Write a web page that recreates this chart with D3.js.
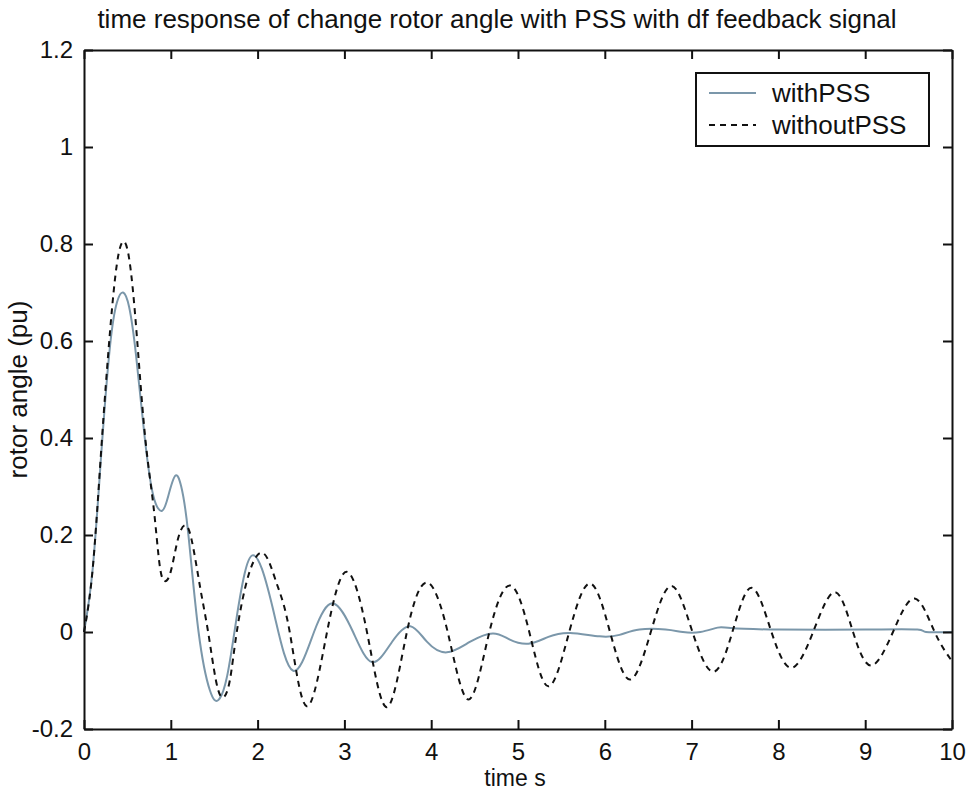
<!DOCTYPE html>
<html>
<head>
<meta charset="utf-8">
<script src="https://cdn.jsdelivr.net/npm/d3@7"></script>
<style>
  body { margin: 0; background: #fff; }
  svg { display: block; }
  text { font-family: "Liberation Sans", Arial, sans-serif; fill: #111; }
</style>
</head>
<body>
<svg width="967" height="791"></svg>
<script>
// values
var tWith = [0, 0.1, 0.2, 0.3, 0.38, 0.45, 0.52, 0.6, 0.7, 0.8, 0.9, 0.97, 1.05, 1.12, 1.2, 1.32,
  1.45, 1.55, 1.65, 1.75, 1.85, 1.94, 2.05, 2.2, 2.41, 2.65, 2.87, 3.1, 3.32, 3.55, 3.76, 3.95,
  4.18, 4.45, 4.71, 4.9, 5.12, 5.35, 5.6, 5.94, 6.17, 6.4, 6.7, 6.9, 7.1, 7.3, 7.45, 8.0, 9.0,
  9.6, 9.7, 10];
var vWith = [0, 0.13, 0.37, 0.59, 0.68, 0.7, 0.67, 0.57, 0.4, 0.28, 0.25, 0.28, 0.322, 0.3, 0.205, 0.0,
  -0.12, -0.14, -0.09, 0.02, 0.12, 0.158, 0.13, 0.03, -0.08, 0.0, 0.059, 0.0, -0.062, -0.02, 0.012, -0.02,
  -0.042, -0.02, -0.003, -0.015, -0.024, -0.01, -0.002, -0.009, -0.006, 0.005, 0.005, 0.0, 0.0, 0.009, 0.008, 0.005, 0.005,
  0.005, 0.0, 0.0];

var tWithout = [0, 0.1, 0.2, 0.3, 0.38, 0.45, 0.52, 0.6, 0.7, 0.8, 0.87, 0.93, 1.0, 1.08, 1.16, 1.24,
  1.34, 1.43, 1.52, 1.6, 1.68, 1.76, 1.9, 2.07, 2.22, 2.37, 2.566, 2.8, 3.025, 3.26, 3.49, 3.72,
  3.95, 4.19, 4.43, 4.67, 4.91, 5.13, 5.35, 5.59, 5.83, 6.06, 6.29, 6.53, 6.77, 7.01, 7.25, 7.47,
  7.69, 7.92, 8.15, 8.4, 8.65, 8.86, 9.07, 9.32, 9.57, 9.8, 10];
var vWithout = [0, 0.13, 0.38, 0.62, 0.76, 0.805, 0.77, 0.63, 0.41, 0.26, 0.14, 0.105, 0.125, 0.19, 0.22, 0.19,
  0.09, 0.0, -0.1, -0.135, -0.1, 0.0, 0.12, 0.162, 0.1, 0.0, -0.153, 0.0, 0.124, 0.0, -0.155, 0.0,
  0.102, 0.0, -0.139, 0.0, 0.096, 0.0, -0.112, 0.0, 0.1, 0.0, -0.098, 0.0, 0.095, 0.0, -0.082, 0.0,
  0.091, 0.0, -0.074, 0.0, 0.082, 0.0, -0.069, 0.0, 0.069, 0.0, -0.06];

var xTicks = [0, 1, 2, 3, 4, 5, 6, 7, 8, 9, 10];
var yTicks = [-0.2, 0, 0.2, 0.4, 0.6, 0.8, 1, 1.2];
var seriesNames = ["withPSS", "withoutPSS"];

var svg = d3.select("svg");
var plotLeft = 84, plotRight = 952, plotTop = 50, plotBottom = 729;

var x = d3.scaleLinear().domain([0, 10]).range([plotLeft, plotRight]);
var y = d3.scaleLinear().domain([-0.2, 1.2]).range([plotBottom, plotTop]);

var fmt = function (d) { return String(+d.toFixed(1)); };

// lines
var line = d3.line()
  .x(function (d) { return x(d[0]); })
  .y(function (d) { return y(d[1]); })
  .curve(d3.curveNatural);

svg.append("path")
  .datum(d3.zip(tWith, vWith))
  .attr("d", line)
  .attr("fill", "none")
  .attr("stroke", "#7b97aa")
  .attr("stroke-width", 2);

svg.append("path")
  .datum(d3.zip(tWithout, vWithout))
  .attr("d", line)
  .attr("fill", "none")
  .attr("stroke", "#111")
  .attr("stroke-width", 2)
  .attr("stroke-dasharray", "6,5");

// axes (box with inward ticks on all sides)
var tk = 9;
svg.append("g").attr("transform", "translate(0," + plotBottom + ")")
  .call(d3.axisBottom(x).tickValues(xTicks).tickSizeInner(-tk).tickSizeOuter(0).tickPadding(14).tickFormat(fmt));
svg.append("g").attr("transform", "translate(0," + plotTop + ")")
  .call(d3.axisTop(x).tickValues(xTicks).tickSizeInner(-tk).tickSizeOuter(0).tickFormat(""));
svg.append("g").attr("transform", "translate(" + plotLeft + ",0)")
  .call(d3.axisLeft(y).tickValues(yTicks).tickSizeInner(-tk).tickSizeOuter(0).tickPadding(11).tickFormat(fmt));
svg.append("g").attr("transform", "translate(" + plotRight + ",0)")
  .call(d3.axisRight(y).tickValues(yTicks).tickSizeInner(-tk).tickSizeOuter(0).tickFormat(""));

svg.selectAll(".domain").attr("stroke", "#111").attr("stroke-width", 2);
svg.selectAll(".tick line").attr("stroke", "#111").attr("stroke-width", 2);
svg.selectAll(".tick text").style("font-size", "24px").attr("fill", "#111")
  .style("font-family", "'Liberation Sans', Arial, sans-serif");

// title and labels
svg.append("text")
  .attr("x", 497).attr("y", 28)
  .attr("text-anchor", "middle").style("font-size", "26px")
  .text("time response of change rotor angle with PSS with df feedback signal");

svg.append("text")
  .attr("x", 515).attr("y", 786)
  .attr("text-anchor", "middle").style("font-size", "23px")
  .text("time s");

svg.append("text")
  .attr("transform", "translate(27," + (plotTop + plotBottom) / 2 + ") rotate(-90)")
  .attr("text-anchor", "middle").style("font-size", "26px")
  .text("rotor angle (pu)");

// legend
var leg = svg.append("g");
leg.append("rect")
  .attr("x", 696).attr("y", 73).attr("width", 233).attr("height", 73)
  .attr("fill", "#fff").attr("stroke", "#111").attr("stroke-width", 2);

seriesNames.forEach(function (name, i) {
  var ly = 93 + i * 32;
  leg.append("line")
    .attr("x1", 709).attr("x2", 756).attr("y1", ly).attr("y2", ly)
    .attr("stroke", i === 0 ? "#7b97aa" : "#111")
    .attr("stroke-width", 2)
    .attr("stroke-dasharray", i === 0 ? null : "6,5");
  leg.append("text")
    .attr("x", 772).attr("y", ly + 9)
    .style("font-size", "26px")
    .text(name);
});
</script>
</body>
</html>
